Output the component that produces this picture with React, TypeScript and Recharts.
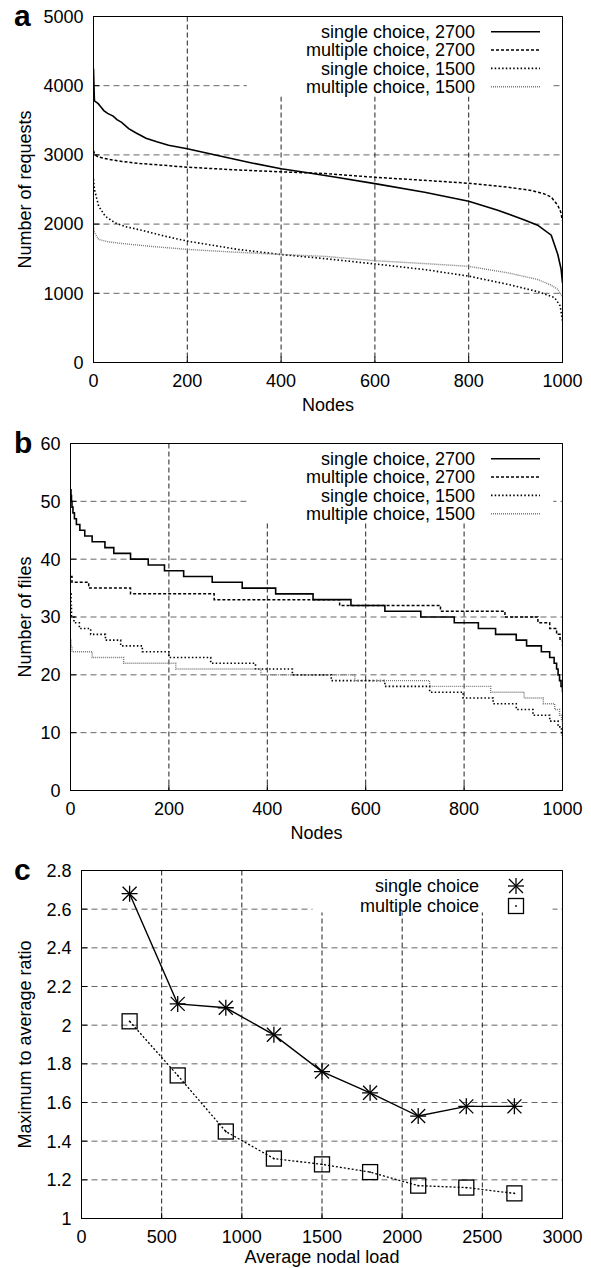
import React from 'react';
import { LineChart, Line, XAxis, YAxis, CartesianGrid, ReferenceArea, Legend } from 'recharts';

const FONT = '"Liberation Sans", Arial, Helvetica, sans-serif';

// ---------- Panel a: number of requests per node ----------
const nodeTicks = [0, 200, 400, 600, 800, 1000];
const requestTicks = [0, 1000, 2000, 3000, 4000, 5000];
const requestSeriesNames = ['single choice, 2700', 'multiple choice, 2700', 'single choice, 1500', 'multiple choice, 1500'];

const single2700Requests: [number, number][] = [
  [0, 4250], [1, 4000], [2, 3780], [10, 3740], [15, 3700], [22, 3640], [30, 3600], [42, 3560], [50, 3510],
  [60, 3470], [75, 3380], [90, 3320], [112, 3240], [135, 3190], [160, 3140], [200, 3090], [272, 2980],
  [340, 2880], [400, 2800], [450, 2750], [514, 2680], [600, 2585], [706, 2460], [800, 2330], [862, 2200],
  [919, 2060], [947, 1985], [976, 1840], [990, 1560], [997, 1350], [1000, 1150],
];
const multiple2700Requests: [number, number][] = [
  [0, 3060], [3, 3000], [10, 2970], [30, 2940], [60, 2905], [100, 2875], [150, 2850], [200, 2822],
  [300, 2785], [400, 2755], [494, 2730], [600, 2676], [700, 2635], [800, 2590], [884, 2533], [930, 2490],
  [960, 2440], [976, 2390], [990, 2271], [996, 2180], [1000, 2050],
];
const single1500Requests: [number, number][] = [
  [0, 2650], [2, 2500], [4, 2450], [11, 2260], [25, 2114], [46, 2018], [70, 1960], [96, 1922], [152, 1826],
  [200, 1754], [308, 1634], [400, 1561], [494, 1500], [600, 1424], [706, 1343], [800, 1248], [884, 1129],
  [947, 1024], [983, 938], [995, 820], [1000, 600],
];
const multiple1500Requests: [number, number][] = [
  [0, 1950], [2, 1880], [11, 1778], [30, 1745], [60, 1720], [120, 1680], [200, 1634], [300, 1595],
  [400, 1561], [494, 1533], [600, 1471], [700, 1432], [800, 1390], [884, 1295], [947, 1200], [975, 1120],
  [990, 1057], [1000, 950],
];

// ---------- Panel b: number of files per node ----------
const fileTicks = [0, 10, 20, 30, 40, 50, 60];
const single2700Files: [number, number][] = [
  [0, 52], [1, 51], [2, 50], [3, 49], [5, 48], [8, 47], [12, 46], [19, 45], [29, 44], [44, 43], [70, 42],
  [88, 41], [122, 40], [158, 39], [191, 38], [230, 37], [288, 36], [349, 35], [417, 34], [493, 33],
  [570, 32], [639, 31], [712, 30], [780, 29], [829, 28], [864, 27], [906, 26], [927, 25], [957, 24],
  [974, 23], [983, 22], [988, 21], [991, 20], [994, 19], [997, 18], [1000, 17],
];
const multiple2700Files: [number, number][] = [
  [0, 37], [3, 36], [37, 35], [122, 34], [292, 33], [547, 32], [752, 31], [883, 30], [950, 29], [974, 28],
  [988, 27], [995, 26], [1000, 25],
];
const single1500Files: [number, number][] = [
  [0, 34], [1, 32], [2, 30], [7, 29], [18, 28], [41, 27], [71, 26], [102, 25], [146, 24], [200, 23],
  [285, 22], [376, 21], [451, 20], [530, 19], [639, 18], [730, 17], [798, 16], [859, 15], [906, 14],
  [940, 13], [974, 12], [991, 11], [998, 10], [1000, 9],
];
const multiple1500Files: [number, number][] = [
  [0, 26], [1, 25], [3, 24], [44, 23], [108, 22], [214, 21], [387, 20], [578, 19], [730, 18], [854, 17],
  [922, 16], [961, 15], [984, 14], [994, 13], [998, 12], [1000, 11],
];

// ---------- Panel c: max to average ratio ----------
const loadTicks = [0, 500, 1000, 1500, 2000, 2500, 3000];
const ratioTicks = [1, 1.2, 1.4, 1.6, 1.8, 2, 2.2, 2.4, 2.6, 2.8];
const averageLoads = [300, 600, 900, 1200, 1500, 1800, 2100, 2400, 2700];
const singleChoiceRatio = [2.68, 2.11, 2.09, 1.95, 1.76, 1.65, 1.53, 1.58, 1.58];
const multipleChoiceRatio = [2.02, 1.74, 1.45, 1.31, 1.28, 1.24, 1.17, 1.16, 1.13];
const ratioSeriesNames = ['single choice', 'multiple choice'];

const toPts = (pairs: [number, number][]) => pairs.map(([n, v]) => ({ n, v }));
const ratioData = averageLoads.map((load, i) => ({ load, single: singleChoiceRatio[i], multiple: multipleChoiceRatio[i] }));

// styles (kept apart from data)
const lineStyles = [
  { stroke: '#000', width: 1.6, dash: undefined as string | undefined },
  { stroke: '#000', width: 1.5, dash: '3 2' },
  { stroke: '#000', width: 1.6, dash: '1.5 2.2' },
  { stroke: '#7a7a7a', width: 1.4, dash: '1 1' },
];

const tickStyle = { fill: '#000', fontSize: 18, fontFamily: FONT };

const SeriesLegend = ({ firstY, names }: { firstY: number; names: string[] }) => (
  <svg width={591} height={firstY + 80} style={{ display: 'block', fontFamily: FONT }}>
    {names.map((name, i) => {
      const y = firstY + i * 18.3;
      const s = lineStyles[i];
      return (
        <g key={name}>
          <text x={475} y={y + 6.3} textAnchor="end" fontSize={18} fill="#000">{name}</text>
          <line x1={491} x2={540} y1={y} y2={y} stroke={s.stroke} strokeWidth={s.width} strokeDasharray={s.dash} />
        </g>
      );
    })}
  </svg>
);

const StarShape = (props: any) => {
  const { cx, cy } = props;
  if (cx == null || cy == null) return <g />;
  return (
    <g stroke="#000" strokeWidth={1.3} fill="none">
      <line x1={cx} y1={cy - 8} x2={cx} y2={cy + 8} />
      <line x1={cx - 8} y1={cy} x2={cx + 8} y2={cy} />
      <line x1={cx - 7} y1={cy - 7} x2={cx + 7} y2={cy + 7} />
      <line x1={cx - 7} y1={cy + 7} x2={cx + 7} y2={cy - 7} />
    </g>
  );
};

const SquareShape = (props: any) => {
  const { cx, cy } = props;
  if (cx == null || cy == null) return <g />;
  return (
    <g>
      <rect x={cx - 7.5} y={cy - 7.5} width={15} height={15} fill="none" stroke="#000" strokeWidth={1.3} />
      <circle cx={cx} cy={cy} r={0.9} fill="#000" />
    </g>
  );
};

const RatioLegend = ({ firstY }: { firstY: number }) => (
  <svg width={591} height={firstY + 40} style={{ display: 'block', fontFamily: FONT }}>
    <text x={479} y={firstY + 6.3} textAnchor="end" fontSize={18} fill="#000">{ratioSeriesNames[0]}</text>
    <StarShape cx={516} cy={firstY} />
    <text x={479} y={firstY + 20 + 6.3} textAnchor="end" fontSize={18} fill="#000">{ratioSeriesNames[1]}</text>
    <SquareShape cx={516} cy={firstY + 20} />
  </svg>
);

const xLabel = (text: string, off: number) => (props: any) => {
  const vb = props.viewBox || {};
  return (
    <text x={vb.x + vb.width / 2} y={vb.y + off} textAnchor="middle" fontSize={18} fill="#000" fontFamily={FONT}>
      {text}
    </text>
  );
};

const yLabel = (text: string) => (props: any) => {
  const vb = props.viewBox || {};
  const cy = vb.y + vb.height / 2;
  return (
    <text x={31} y={cy} transform={`rotate(-90, 31, ${cy})`} textAnchor="middle" fontSize={18} fill="#000" fontFamily={FONT}>
      {text}
    </text>
  );
};

const legendWrap = { position: 'absolute' as const, left: 0, top: 0, width: 591, margin: 0, padding: 0 };

export default function App() {
  const requestSeries = [single2700Requests, multiple2700Requests, single1500Requests, multiple1500Requests];
  const fileSeries = [single2700Files, multiple2700Files, single1500Files, multiple1500Files];
  return (
    <div style={{ position: 'absolute', left: 0, top: 0, width: 591, height: 1268, background: '#fff', fontFamily: FONT }}>
      {/* Panel a */}
      <LineChart width={591} height={420} margin={{ top: 16.5, right: 28.5, bottom: 0, left: 0 }}>
        <CartesianGrid vertical={false} stroke="#666" strokeDasharray="6 4" />
        <CartesianGrid horizontal={false} stroke="#222" strokeDasharray="5 3" />
        <ReferenceArea x1={327} x2={980} y1={3844} y2={5000} fill="#fff" fillOpacity={1} stroke="none" ifOverflow="hidden" />
        <XAxis type="number" dataKey="n" domain={[0, 1000]} ticks={nodeTicks} height={57.5} tick={tickStyle}
          tickSize={-6} tickMargin={18} stroke="#000" axisLine={{ stroke: '#000' }} tickLine={{ stroke: '#000' }}
          label={xLabel('Nodes', 48)} allowDataOverflow />
        <YAxis type="number" domain={[0, 5000]} ticks={requestTicks} width={93.5} tick={tickStyle}
          tickSize={-6} tickMargin={16} axisLine={{ stroke: '#000' }} tickLine={{ stroke: '#000' }}
          label={yLabel('Number of requests')} allowDataOverflow />
        {requestSeries.map((s, i) => (
          <Line key={requestSeriesNames[i]} data={toPts(s)} dataKey="v" name={requestSeriesNames[i]} type="linear"
            stroke={lineStyles[i].stroke} strokeWidth={lineStyles[i].width} strokeDasharray={lineStyles[i].dash}
            dot={false} activeDot={false} isAnimationActive={false} />
        ))}
        <ReferenceArea x1={0} x2={1000} y1={0} y2={5000} fill="none" stroke="#000" strokeWidth={1} />
        <Legend layout="vertical" align="center" verticalAlign="middle" wrapperStyle={legendWrap}
          content={() => <SeriesLegend firstY={31.8} names={requestSeriesNames} />} />
      </LineChart>

      {/* Panel b */}
      <LineChart width={591} height={432} margin={{ top: 23.5, right: 28.5, bottom: 12, left: 0 }}>
        <CartesianGrid vertical={false} stroke="#666" strokeDasharray="6 4" />
        <CartesianGrid horizontal={false} stroke="#222" strokeDasharray="5 3" />
        <ReferenceArea x1={358} x2={981} y1={46.3} y2={60} fill="#fff" fillOpacity={1} stroke="none" ifOverflow="hidden" />
        <XAxis type="number" dataKey="n" domain={[0, 1000]} ticks={nodeTicks} height={49.5} tick={tickStyle}
          tickSize={-6} tickMargin={18} axisLine={{ stroke: '#000' }} tickLine={{ stroke: '#000' }}
          label={xLabel('Nodes', 48)} allowDataOverflow />
        <YAxis type="number" domain={[0, 60]} ticks={fileTicks} width={70.5} tick={tickStyle}
          tickSize={-6} tickMargin={16} axisLine={{ stroke: '#000' }} tickLine={{ stroke: '#000' }}
          label={yLabel('Number of files')} allowDataOverflow />
        {fileSeries.map((s, i) => (
          <Line key={requestSeriesNames[i]} data={toPts(s)} dataKey="v" name={requestSeriesNames[i]} type="stepAfter"
            stroke={lineStyles[i].stroke} strokeWidth={lineStyles[i].width} strokeDasharray={lineStyles[i].dash}
            dot={false} activeDot={false} isAnimationActive={false} />
        ))}
        <ReferenceArea x1={0} x2={1000} y1={0} y2={60} fill="none" stroke="#000" strokeWidth={1} />
        <Legend layout="vertical" align="center" verticalAlign="middle" wrapperStyle={legendWrap}
          content={() => <SeriesLegend firstY={38.8} names={requestSeriesNames} />} />
      </LineChart>

      {/* Panel c */}
      <LineChart width={591} height={416} data={ratioData} margin={{ top: 18.5, right: 28.5, bottom: 0, left: 0 }}>
        <CartesianGrid vertical={false} stroke="#666" strokeDasharray="6 4" />
        <CartesianGrid horizontal={false} stroke="#222" strokeDasharray="5 3" />
        <ReferenceArea x1={1441} x2={2938} y1={2.583} y2={2.8} fill="#fff" fillOpacity={1} stroke="none" ifOverflow="hidden" />
        <XAxis type="number" dataKey="load" domain={[0, 3000]} ticks={loadTicks} height={49.5} tick={tickStyle}
          tickSize={-6} tickMargin={18} axisLine={{ stroke: '#000' }} tickLine={{ stroke: '#000' }}
          label={xLabel('Average nodal load', 44.5)} allowDataOverflow />
        <YAxis type="number" domain={[1, 2.8]} ticks={ratioTicks} width={81.5} tick={tickStyle}
          tickSize={-6} tickMargin={16} axisLine={{ stroke: '#000' }} tickLine={{ stroke: '#000' }}
          label={yLabel('Maximum to average ratio')} allowDataOverflow />
        <Line dataKey="single" name={ratioSeriesNames[0]} type="linear" stroke="#000" strokeWidth={1.4}
          dot={(p: any) => <StarShape key={`s${p.index}`} {...p} />} activeDot={false} isAnimationActive={false} />
        <Line dataKey="multiple" name={ratioSeriesNames[1]} type="linear" stroke="#000" strokeWidth={1.3} strokeDasharray="2 2"
          dot={(p: any) => <SquareShape key={`m${p.index}`} {...p} />} activeDot={false} isAnimationActive={false} />
        <ReferenceArea x1={0} x2={3000} y1={1} y2={2.8} fill="none" stroke="#000" strokeWidth={1} />
        <Legend layout="vertical" align="center" verticalAlign="middle" wrapperStyle={legendWrap}
          content={() => <RatioLegend firstY={34} />} />
      </LineChart>

      {/* panel letters */}
      <svg width={591} height={1268} style={{ position: 'absolute', left: 0, top: 0, pointerEvents: 'none' }}>
        <text x={14} y={26} fontSize={30} fontWeight="bold" fill="#000" fontFamily={FONT}>a</text>
        <text x={14} y={453} fontSize={30} fontWeight="bold" fill="#000" fontFamily={FONT}>b</text>
        <text x={14} y={880} fontSize={30} fontWeight="bold" fill="#000" fontFamily={FONT}>c</text>
      </svg>
    </div>
  );
}
